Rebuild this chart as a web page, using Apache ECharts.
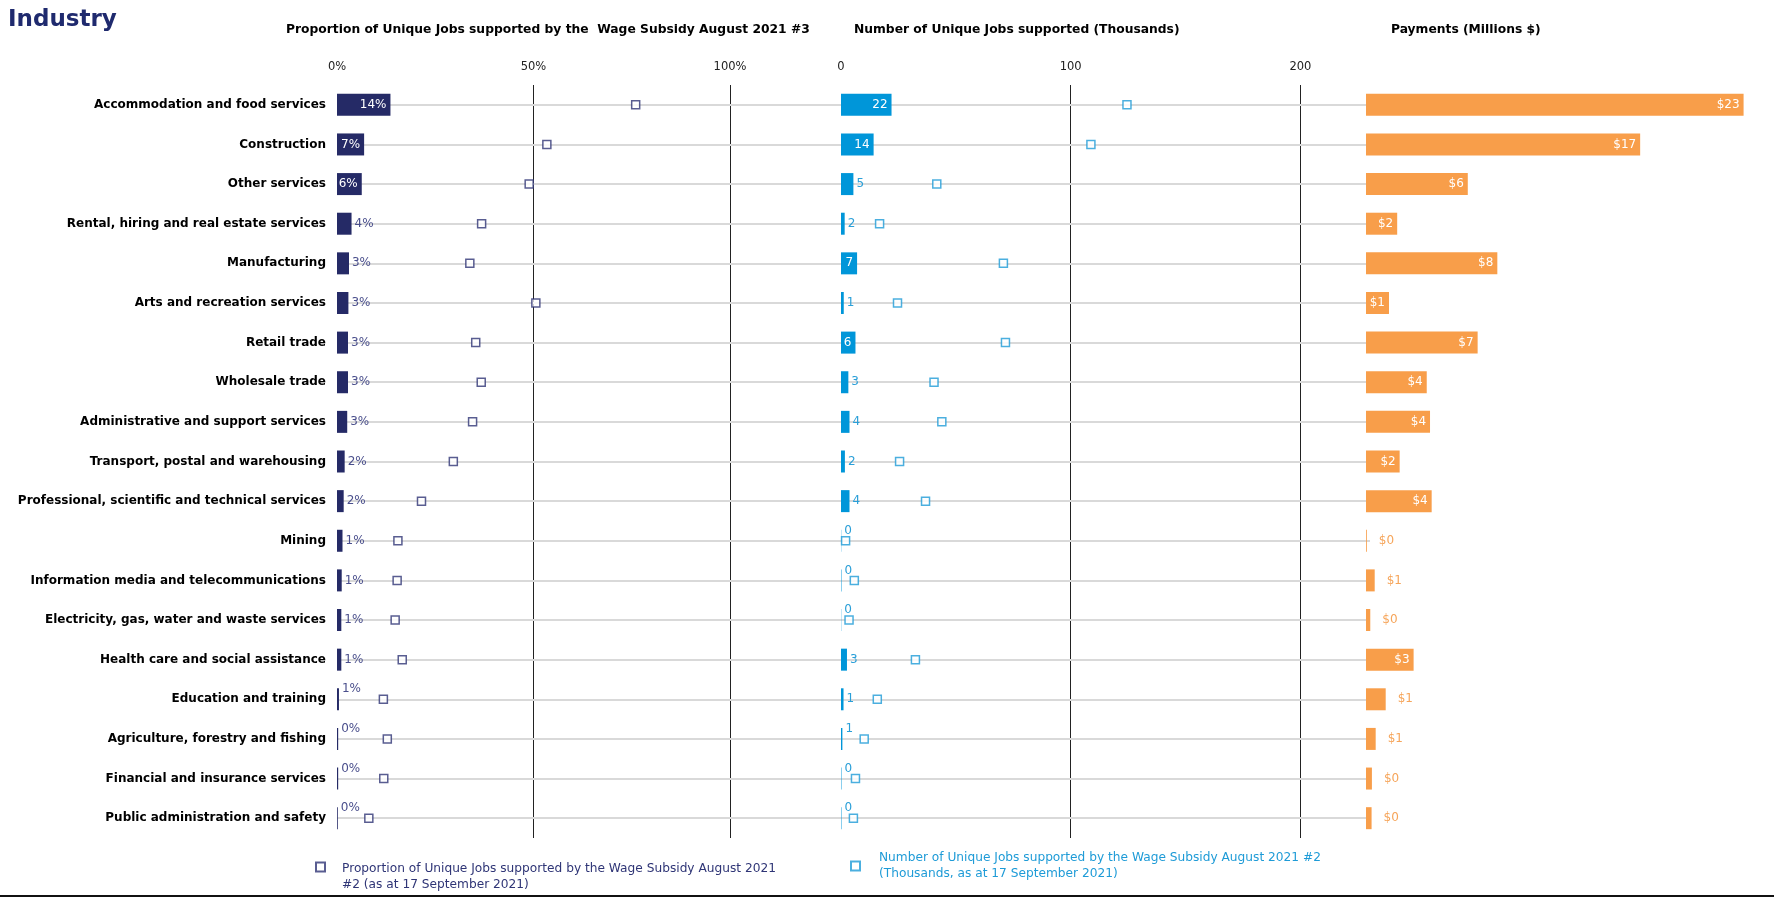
<!DOCTYPE html>
<html><head><meta charset="utf-8">
<script src="https://cdn.jsdelivr.net/npm/echarts@6/dist/echarts.min.js"></script>
<style>html,body{margin:0;padding:0;background:#fff;}#c{width:1774px;height:903px;}</style>
</head><body><div id="c"></div>
<script>
const categories = [
  "Accommodation and food services","Construction","Other services",
  "Rental, hiring and real estate services","Manufacturing","Arts and recreation services",
  "Retail trade","Wholesale trade","Administrative and support services",
  "Transport, postal and warehousing","Professional, scientific and technical services",
  "Mining","Information media and telecommunications","Electricity, gas, water and waste services",
  "Health care and social assistance","Education and training","Agriculture, forestry and fishing",
  "Financial and insurance services","Public administration and safety"
];
// Proportion of unique jobs (%), Wage Subsidy August 2021 #3 (bars)
const proportionAug3 = [13.6,6.9,6.3,3.7,3.05,2.9,2.8,2.8,2.6,1.95,1.7,1.4,1.2,1.1,1.1,0.5,0.3,0.3,0.2];
// Proportion of unique jobs (%), Wage Subsidy August 2021 #2 (markers)
const proportionAug2 = [76,53.4,48.9,36.8,33.8,50.6,35.3,36.7,34.5,29.6,21.5,15.5,15.3,14.8,16.6,11.8,12.8,11.9,8.1];
// Number of unique jobs (thousands), #3 (bars)
const jobsAug3 = [22,14.2,5.4,1.6,7.0,1.2,6.3,3.2,3.7,1.7,3.7,0.1,0.2,0.1,2.6,1.1,0.6,0.2,0.2];
// Number of unique jobs (thousands), #2 (markers)
const jobsAug2 = [124.5,108.8,41.7,16.8,70.7,24.6,71.6,40.5,43.9,25.5,36.8,2.0,5.8,3.5,32.4,15.8,10.1,6.3,5.4];
// Payments (millions $)
const payments = [23,16.7,6.2,1.9,8.0,1.4,6.8,3.7,3.9,2.05,4.0,0.05,0.53,0.26,2.9,1.2,0.59,0.36,0.34];
const proportionTicks = [0,50,100];
const jobsTicks = [0,100,200];

const legendProp = "Proportion of Unique Jobs supported by the Wage Subsidy August 2021 #2 (as at 17 September 2021)";
const legendJobs = "Number of Unique Jobs supported by the Wage Subsidy August 2021 #2 (Thousands, as at 17 September 2021)";

const NAVY = '#252A66', NAVY_TXT = '#4A4F8C', CYAN = '#0096D9', CYAN_TXT = '#2A9FD8', ORANGE = '#F89E4A', ORANGE_TXT = '#F6A55A';
const FONT = 'DejaVu Sans';

function barData(vals, insideMin, raiseBelow, outColor, outDist) {
  return vals.map(v => {
    const inside = v >= insideMin;
    const raised = v < raiseBelow;
    return {
      value: v,
      label: inside
        ? {position: 'insideRight', distance: 4, color: '#fff'}
        : {position: 'right', distance: outDist, color: outColor, offset: raised ? [0, -10] : [0, 0]}
    };
  });
}

const chart = echarts.init(document.getElementById('c'), null, {renderer: 'canvas'});
const gTop = 85, gH = 753;
const baseLabel = {show: true, fontFamily: FONT, fontSize: 12};
const titleStyle = {fontFamily: FONT, fontWeight: 'bold', fontSize: 12.3, color: '#000'};
chart.setOption({
  animation: false,
  backgroundColor: '#fff',
  title: [
    {text: 'Industry', left: 3, top: 4, textStyle: {fontFamily: FONT, fontWeight: 'bold', fontSize: 23, color: '#1F2A6E'}},
    {text: 'Proportion of Unique Jobs supported by the  Wage Subsidy August 2021 #3', left: 281, top: 19, textStyle: titleStyle},
    {text: 'Number of Unique Jobs supported (Thousands)', left: 849, top: 19, textStyle: titleStyle},
    {text: 'Payments (Millions $)', left: 1386, top: 19, textStyle: titleStyle}
  ],
  legend: [
    {data: [legendProp], left: 310, top: 840, itemWidth: 9, itemHeight: 9,
     formatter: n => '{gap|}\n{t|' + n.replace(' #2 ', '}\n{t|#2 ') + '}',
     textStyle: {fontFamily: FONT, fontSize: 12.2, color: '#2F3576', padding: [0, 0, 0, 12],
       rich: {gap: {lineHeight: 20, fontSize: 12.2}, t: {fontFamily: FONT, fontSize: 12.2, color: '#2F3576', lineHeight: 16}}}},
    {data: [legendJobs], left: 845, top: 845, itemWidth: 9, itemHeight: 9,
     formatter: n => n.replace(' (Thousands', '\n(Thousands'),
     textStyle: {fontFamily: FONT, fontSize: 12.2, color: '#1E9BD7', lineHeight: 16, padding: [0, 0, 0, 14]}}
  ],
  grid: [
    {left: 337, top: gTop, width: 393, height: gH},
    {left: 841, top: gTop, width: 459.4, height: gH},
    {left: 1366, top: gTop, width: 394, height: gH}
  ],
  xAxis: [
    {gridIndex: 0, type: 'value', position: 'top', min: proportionTicks[0], max: proportionTicks[proportionTicks.length-1], interval: proportionTicks[1]-proportionTicks[0],
     axisLine: {show: false}, axisTick: {show: false},
     axisLabel: {formatter: '{value}%', fontFamily: FONT, fontSize: 11.5, color: '#222', margin: 12},
     splitLine: {show: true, showMinLine: false, lineStyle: {color: '#222', width: 1}}},
    {gridIndex: 1, type: 'value', position: 'top', min: jobsTicks[0], max: jobsTicks[jobsTicks.length-1], interval: jobsTicks[1]-jobsTicks[0],
     axisLine: {show: false}, axisTick: {show: false},
     axisLabel: {fontFamily: FONT, fontSize: 11.5, color: '#222', margin: 12},
     splitLine: {show: true, showMinLine: false, lineStyle: {color: '#222', width: 1}}},
    {gridIndex: 2, type: 'value', min: 0, max: 24, show: false, splitLine: {show: false}}
  ],
  yAxis: [
    {gridIndex: 0, type: 'category', inverse: true, data: categories,
     axisLine: {show: false},
     axisTick: {show: true, inside: true, length: 1033, alignWithLabel: true, lineStyle: {color: '#D9D9D9', width: 2}},
     axisLabel: {fontFamily: FONT, fontWeight: 'bold', fontSize: 12, color: '#000', margin: 11},
     splitLine: {show: false}},
    {gridIndex: 1, type: 'category', inverse: true, data: categories, show: false},
    {gridIndex: 2, type: 'category', inverse: true, data: categories, show: false}
  ],
  series: [
    {type: 'bar', name: 'Proportion #3', xAxisIndex: 0, yAxisIndex: 0, barWidth: 22, z: 3,
     itemStyle: {color: NAVY},
     label: Object.assign({}, baseLabel, {formatter: p => Math.round(p.value) + '%'}),
     data: barData(proportionAug3, 5, 0.8, NAVY_TXT, 3)},
    {type: 'scatter', name: legendProp, xAxisIndex: 0, yAxisIndex: 0, symbol: 'rect', symbolSize: 8, z: 4,
     itemStyle: {color: '#fff', borderColor: '#2F3576', borderWidth: 1.5},
     data: proportionAug2.map((v, i) => [v, categories[i]])},
    {type: 'bar', name: 'Jobs #3', xAxisIndex: 1, yAxisIndex: 1, barWidth: 22, z: 3,
     itemStyle: {color: CYAN},
     label: Object.assign({}, baseLabel, {formatter: p => String(Math.round(p.value))}),
     data: barData(jobsAug3, 6, 0.7, CYAN_TXT, 3)},
    {type: 'scatter', name: legendJobs, xAxisIndex: 1, yAxisIndex: 1, symbol: 'rect', symbolSize: 8, z: 4,
     itemStyle: {color: '#fff', borderColor: '#1E9BD7', borderWidth: 1.5},
     data: jobsAug2.map((v, i) => [v, categories[i]])},
    {type: 'bar', name: 'Payments', xAxisIndex: 2, yAxisIndex: 2, barWidth: 22, z: 3,
     itemStyle: {color: ORANGE},
     label: Object.assign({}, baseLabel, {formatter: p => '$' + Math.round(p.value)}),
     data: barData(payments, 1.3, 0, ORANGE_TXT, 12)}
  ],
  graphic: [
    {type: 'line', shape: {x1: 0, y1: 896, x2: 1774, y2: 896}, style: {stroke: '#111', lineWidth: 2}}
  ]
});
</script>
</body></html>
